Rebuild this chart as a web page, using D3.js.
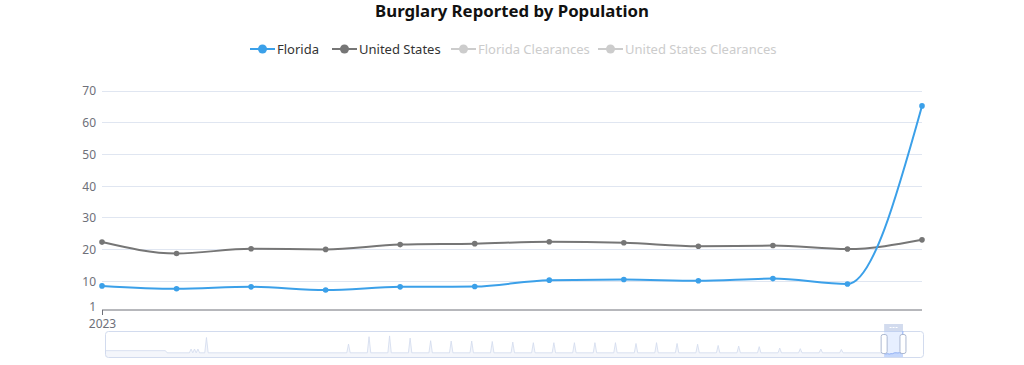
<!DOCTYPE html>
<html><head><meta charset="utf-8">
<script src="https://cdn.jsdelivr.net/npm/d3@7"></script>
<style>body{margin:0;background:#fff;} svg{display:block;font-family:"Noto Sans","Open Sans",sans-serif;}</style>
</head><body>
<svg id="c" width="1024" height="365"></svg>
<script>
// ---------- data ----------
const months = ["2023-01","2023-02","2023-03","2023-04","2023-05","2023-06","2023-07","2023-08","2023-09","2023-10","2023-11","2023-12"];
const xTickLabels = ["2023"];
const florida = [8.6, 7.7, 8.3, 7.3, 8.3, 8.4, 10.4, 10.6, 10.2, 10.9, 9.2, 65.3];
const unitedStates = [22.4, 18.8, 20.3, 20.1, 21.6, 21.9, 22.5, 22.2, 21.1, 21.3, 20.2, 23.1];
const yTicks = [1, 10, 20, 30, 40, 50, 60, 70];
const legendNames = ["Florida", "United States", "Florida Clearances", "United States Clearances"];
const legendActive = [true, true, false, false];
// full-range overview (month index, value) for the zoom slider shadow
const shadowTotal = 478;
const shadowPoints = [[0,16],[35,16],[36,10.5],[49,10.5],[50,20],[51,10.5],[52,20],[53,10.5],[54,20],[55,10.5],[58,10.5],[59,49],[60,10.5],
 [141,10.5],[142,32.5],[143,10.5],[153,10.5],[154,51],[155,10.5],[165,10.5],[166,53],[167,10.5],[177,10.5],[178,47.5],[179,10.5],
 [189,10.5],[190,41],[191,10.5],[201,10.5],[202,40],[203,10.5],[213,10.5],[214,40],[215,10.5],[225,10.5],[226,39],[227,10.5],
 [237,10.5],[238,37.5],[239,10.5],[249,10.5],[250,36],[251,10.5],[261,10.5],[262,36],[263,10.5],[273,10.5],[274,36],[275,10.5],
 [285,10.5],[286,36],[287,10.5],[297,10.5],[298,36],[299,10.5],[309,10.5],[310,34],[311,10.5],[321,10.5],[322,36],[323,10.5],
 [333,10.5],[334,34],[335,10.5],[345,10.5],[346,32],[347,10.5],[357,10.5],[358,29],[359,10.5],[369,10.5],[370,27.5],[371,10.5],
 [381,10.5],[382,26],[383,10.5],[393,10.5],[394,22.5],[395,10.5],[405,10.5],[406,21],[407,10.5],[417,10.5],[418,20],[419,10.5],
 [429,10.5],[430,19],[431,10.5],[454,10.5],
 [455,8.6],[456,7.7],[457,8.3],[458,7.3],[459,8.3],[460,8.4],[461,10.4],[462,10.6],[463,10.2],[464,10.9],[465,9.2],[466,65.3]];
const windowStart = 455, windowEnd = 466;

const blue = "#3ba0e9", grey = "#767676";
const svg = d3.select("#c");

// ---------- title ----------
svg.append("text").attr("x", 512).attr("y", 17).attr("text-anchor", "middle")
  .attr("font-size", 16.8).attr("font-weight", "bold").attr("fill", "#111")
  .text("Burglary Reported by Population");

// ---------- legend ----------
const legendX = [250, 332, 451, 598];
const legendColors = [blue, grey, "#ccc", "#ccc"];
legendNames.forEach((n, i) => {
  const g = svg.append("g").attr("transform", `translate(${legendX[i]},49)`);
  const c = legendActive[i] ? legendColors[i] : "#ccc";
  g.append("line").attr("x1", 0).attr("x2", 25).attr("y1", 0).attr("y2", 0).attr("stroke", c).attr("stroke-width", 2);
  g.append("circle").attr("cx", 12.5).attr("cy", 0).attr("r", 4.5).attr("fill", c);
  g.append("text").attr("x", 27).attr("y", 0).attr("dy", "0.35em").attr("font-size", 13)
    .attr("fill", legendActive[i] ? "#333" : "#ccc").text(n);
});

// ---------- main chart ----------
const x = d3.scalePoint().domain(months).range([102, 922]);
const y = d3.scaleLinear().domain([1, 70]).range([310, 91]);

const grid = svg.append("g");
grid.selectAll("line").data(yTicks.filter(t => t !== 1)).join("line")
  .attr("x1", 102).attr("x2", 922).attr("y1", d => y(d)).attr("y2", d => y(d))
  .attr("stroke", "#E0E6F1").attr("stroke-width", 1).attr("shape-rendering", "crispEdges");

const yAxis = d3.axisLeft(y).tickValues(yTicks).tickSize(0).tickPadding(6);
svg.append("g").attr("transform", "translate(102,0)").call(yAxis)
  .call(g => g.select(".domain").remove())
  .call(g => g.selectAll("text").attr("fill", "#6E7079").attr("font-size", 12).attr("font-family", "'Noto Sans',sans-serif"))
  .call(g => g.selectAll(".tick").filter(d => d === 1).select("text").attr("dy", "0em"));

const xAxis = d3.axisBottom(x).tickValues([months[0]]).tickFormat((d, i) => xTickLabels[i]).tickSize(5).tickSizeOuter(0).tickPadding(4);
svg.append("g").attr("transform", "translate(0,310)").call(xAxis)
  .call(g => g.select(".domain").attr("stroke", "#6E7079").attr("d", "M102,0H922"))
  .call(g => g.selectAll(".tick line").attr("stroke", "#6E7079"))
  .call(g => g.selectAll("text").attr("fill", "#6E7079").attr("font-size", 12).attr("font-family", "'Noto Sans',sans-serif"));

const line = d3.line().x((d, i) => x(months[i])).y(d => y(d)).curve(d3.curveMonotoneX);
[[unitedStates, grey], [florida, blue]].forEach(([data, col]) => {
  svg.append("path").datum(data).attr("d", line).attr("fill", "none").attr("stroke", col).attr("stroke-width", 2);
  svg.append("g").selectAll("circle").data(data).join("circle")
    .attr("cx", (d, i) => x(months[i])).attr("cy", d => y(d)).attr("r", 2.8).attr("fill", col);
});

// ---------- zoom slider ----------
const sx = d3.scaleLinear().domain([0, shadowTotal]).range([105.5, 923.5]);
const sy = d3.scaleLinear().domain([0, 65.3]).range([357, 331]);
svg.append("rect").attr("x", 105.5).attr("y", 331.5).attr("width", 818).attr("height", 26)
  .attr("rx", 3).attr("fill", "none").attr("stroke", "#d2dbee");
const area = d3.area().x(d => sx(d[0])).y0(357).y1(d => sy(d[1]));
const sline = d3.line().x(d => sx(d[0])).y(d => sy(d[1]));
svg.append("path").datum(shadowPoints).attr("d", area).attr("fill", "#d2dbee").attr("fill-opacity", 0.25);
svg.append("path").datum(shadowPoints).attr("d", sline).attr("fill", "none").attr("stroke", "#d2dbee").attr("stroke-width", 0.8);

const sel = shadowPoints.filter(d => d[0] >= windowStart && d[0] <= windowEnd);
svg.append("path").datum(sel).attr("d", area).attr("fill", "#8fb0f7").attr("fill-opacity", 0.3);
svg.append("path").datum(sel).attr("d", sline).attr("fill", "none").attr("stroke", "#8fb0f7").attr("stroke-width", 0.8);

const wx0 = sx(windowStart), wx1 = sx(windowEnd);
svg.append("rect").attr("x", wx0).attr("y", 331).attr("width", wx1 - wx0).attr("height", 26)
  .attr("fill", "rgba(135,175,274,0.2)");
svg.append("rect").attr("x", wx0).attr("y", 324).attr("width", wx1 - wx0).attr("height", 7)
  .attr("fill", "#D2DBEE");
[-2, 0, 2].forEach(o => svg.append("line").attr("x1", (wx0 + wx1) / 2 + o * 1.5 - 1).attr("x2", (wx0 + wx1) / 2 + o * 1.5 + 1)
  .attr("y1", 327.5).attr("y2", 327.5).attr("stroke", "#fff").attr("stroke-width", 1));
[wx0, wx1].forEach(hx => {
  svg.append("rect").attr("x", hx - 3).attr("y", 334.5).attr("width", 6).attr("height", 19).attr("rx", 2)
    .attr("fill", "#fff").attr("stroke", "#ACB8D1").attr("stroke-width", 1);
});
</script>
</body></html>
